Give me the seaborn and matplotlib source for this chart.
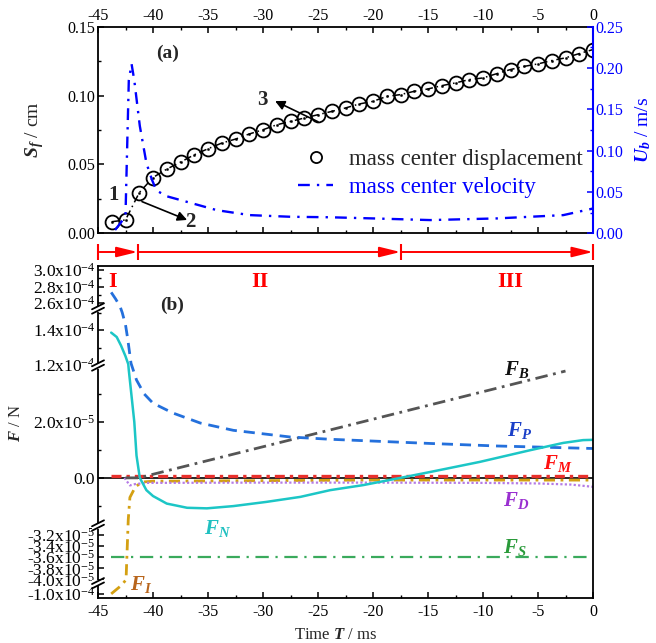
import numpy as np
import pandas as pd
import matplotlib
matplotlib.use("Agg")
import matplotlib.pyplot as plt
import seaborn as sns
from matplotlib.ticker import FixedLocator, FixedFormatter, MultipleLocator, NullFormatter
from matplotlib.lines import Line2D
from matplotlib.patches import Rectangle

# ---------------- panel (a) data ----------------
t_disp = [-43.75, -42.5, -41.25, -40.0, -38.75, -37.5, -36.25, -35.0, -33.75, -32.5, -31.25, -30.0,
          -28.75, -27.5, -26.25, -25.0, -23.75, -22.5, -21.25, -20.0, -18.75, -17.5, -16.25, -15.0,
          -13.75, -12.5, -11.25, -10.0, -8.75, -7.5, -6.25, -5.0, -3.75, -2.5, -1.25, 0.0]
s_disp = [0.0084, 0.0097, 0.0295, 0.0405, 0.0466, 0.0517, 0.0570, 0.0614, 0.0655, 0.0684, 0.0721, 0.0752,
          0.0788, 0.0812, 0.0837, 0.0861, 0.0885, 0.0910, 0.0939, 0.0958, 0.0994, 0.1007, 0.1031, 0.1048,
          0.1072, 0.1092, 0.1116, 0.1128, 0.1159, 0.1189, 0.1212, 0.1230, 0.1254, 0.1274, 0.1305, 0.1334]

t_vel = [-43.45, -42.75, -42.5, -42.2, -41.95, -41.7, -41.2, -40.6, -40.1, -39.7, -38.8, -36.9,
         -34.2, -31.2, -27.5, -23.9, -20.0, -14.8, -8.75, -2.7, 0.0]
u_vel = [0.004, 0.016, 0.022, 0.185, 0.205, 0.185, 0.130, 0.085, 0.065, 0.052, 0.045, 0.038,
         0.028, 0.022, 0.020, 0.0194, 0.018, 0.016, 0.018, 0.022, 0.030]

# ---------------- panel (b) data (N) ----------------
t_FP = [-43.8, -43.4, -43.0, -42.8, -42.5, -42.3, -42.0, -41.5, -40.8, -40.0, -38.2, -35.7,
        -32.7, -27.5, -23.9, -14.8, -8.75, 0.0]
F_P = [2.73e-4, 2.65e-4, 2.56e-4, 1.50e-4, 1.43e-4, 1.35e-4, 1.21e-4, 3.5e-5, 3.0e-5, 2.67e-5,
       2.32e-5, 1.96e-5, 1.70e-5, 1.46e-5, 1.38e-5, 1.23e-5, 1.14e-5, 1.05e-5]

t_FN = [-43.8, -43.3, -42.9, -42.5, -42.25, -42.2, -41.7, -41.5, -41.2, -40.6, -40.0, -38.75,
        -36.9, -35.1, -32.7, -29.7, -26.6, -23.9, -20.9, -17.5, -14.8, -10.3, -5.7, -2.7, -0.9, 0.0]
F_N = [1.385e-4, 1.36e-4, 1.31e-4, 1.25e-4, 1.205e-4, 3.85e-5, 2.0e-5, 0.8e-5, 0.0, -0.44e-5,
       -0.65e-5, -0.92e-5, -1.07e-5, -1.09e-5, -1.01e-5, -0.86e-5, -0.68e-5, -0.44e-5, -0.26e-5,
       0.0, 0.21e-5, 0.57e-5, 0.99e-5, 1.25e-5, 1.35e-5, 1.36e-5]

t_FB = [-42.5, -41.3, -2.5]
F_B = [0.0, 0.0, 3.82e-5]

t_FM = [-43.8, 0.0]
F_M = [0.08e-5, 0.08e-5]

t_FD = [-42.6, -42.1, -41.6, -40.5, -30.0, -20.0, -10.0, -5.0, -2.0, 0.0]
F_D = [0.0, -0.27e-5, -0.22e-5, -0.18e-5, -0.17e-5, -0.17e-5, -0.18e-5, -0.20e-5, -0.24e-5, -0.32e-5]

t_FS = [-43.8, 0.0]
F_S = [-3.6e-5, -3.6e-5]

t_FI = [-43.8, -42.85, -42.45, -42.25, -42.1, -41.6, -41.0, -40.0, -20.0, 0.0]
F_I = [-1.0e-4, -0.979e-4, -4.0e-5, -1.5e-5, -0.7e-5, -0.32e-5, -0.15e-5, -0.12e-5, -0.08e-5, -0.08e-5]

phase_edges = [-45.0, -41.4, -17.5, 0.0]
phase_names = ["I", "II", "III"]

ytick_vals = [-1.0e-4, -4.0e-5, -3.8e-5, -3.6e-5, -3.4e-5, -3.2e-5, 0.0, 2.0e-5,
              1.2e-4, 1.4e-4, 2.6e-4, 2.8e-4, 3.0e-4]
ytick_labels = ["-1.0x10$^{-4}$", "-4.0x10$^{-5}$", "-3.8x10$^{-5}$", "-3.6x10$^{-5}$",
                "-3.4x10$^{-5}$", "-3.2x10$^{-5}$", "0.0", "2.0x10$^{-5}$",
                "1.2x10$^{-4}$", "1.4x10$^{-4}$", "2.6x10$^{-4}$", "2.8x10$^{-4}$", "3.0x10$^{-4}$"]
ytick_minor = [-1.0e-5, 1.0e-5, 3.0e-5, 1.3e-4, 1.5e-4, 2.7e-4, 2.9e-4]

# broken-axis mapping (data value -> pixel row in panel b)
bp_data = [-1.01e-4, -0.975e-4, -4.06e-5, -3.06e-5, -1.65e-5, 4.0e-5, 1.2e-4, 1.52e-4, 2.54e-4, 3.05e-4]
bp_px = [598, 583.5, 583, 527, 524, 366, 365, 309, 308, 266]

# ---------------- style ----------------
sns.set_theme(style="ticks")
plt.rcParams.update({
    "font.family": ["Liberation Serif", "DejaVu Serif"],
    "mathtext.fontset": "custom",
    "mathtext.rm": "Liberation Serif",
    "mathtext.it": "Liberation Serif:italic",
    "mathtext.bf": "Liberation Serif:bold",
    "mathtext.bfit": "Liberation Serif:italic:bold",
    "axes.unicode_minus": False,
    "xtick.direction": "in",
    "ytick.direction": "in",
    "axes.linewidth": 1.3,
    "axes.edgecolor": "black",
    "xtick.color": "black",
    "ytick.color": "black",
})

W, H = 656, 643
fig = plt.figure(figsize=(W / 100, H / 100), dpi=100)
ax_a = fig.add_axes([98 / W, 1 - 233.3 / H, 495 / W, (233.3 - 26.7) / H])
ax_b = fig.add_axes([98 / W, 1 - 598 / H, 495 / W, 332 / H])

# ================= panel (a) =================
sns.lineplot(x=t_disp, y=s_disp, ax=ax_a, color="black", linestyle=(0, (5, 2.5, 1, 2.5)),
             lw=1.1, errorbar=None)
sns.lineplot(x=t_disp, y=s_disp, ax=ax_a, color="black", linestyle="none", marker="o",
             markersize=10, markerfacecolor="none", markeredgecolor="black",
             markeredgewidth=1.3, errorbar=None)
sns.lineplot(x=t_disp, y=s_disp, ax=ax_a, color="black", linestyle="none", marker="o",
             markersize=1.6, markerfacecolor="black", markeredgecolor="black",
             markeredgewidth=0.3, errorbar=None)
ax_a.set_xlim(-45, 0)
ax_a.set_ylim(0, 0.15)
ax_a.xaxis.set_major_locator(MultipleLocator(5))
ax_a.xaxis.set_minor_locator(MultipleLocator(2.5))
ax_a.yaxis.set_major_locator(MultipleLocator(0.05))
ax_a.yaxis.set_minor_locator(MultipleLocator(0.025))
ax_a.yaxis.set_major_formatter(matplotlib.ticker.FormatStrFormatter("%.2f"))
ax_a.tick_params(axis="x", which="both", top=True, bottom=True, labeltop=True,
                 labelbottom=False, labelsize=11.5, pad=2)
ax_a.tick_params(axis="y", which="both", left=True, right=False, labelsize=11.5, pad=2)
ax_a.tick_params(which="major", length=4, width=1.1)
ax_a.tick_params(which="minor", length=2.5, width=1.0)
ax_a.spines["right"].set_visible(False)
ax_a.set_ylabel(r"$\mathbfit{S}_{\mathbfit{f}}$ / cm", fontsize=14)
ax_a.yaxis.set_label_coords(-0.105, 0.5)

ax_a2 = ax_a.twinx()
sns.lineplot(x=t_vel, y=u_vel, ax=ax_a2, color="#0000ff", linestyle=(0, (5, 3, 1, 3)),
             lw=1.7, errorbar=None)
ax_a2.set_ylim(0, 0.25)
ax_a2.yaxis.set_major_locator(MultipleLocator(0.05))
ax_a2.yaxis.set_minor_locator(MultipleLocator(0.025))
ax_a2.yaxis.set_major_formatter(matplotlib.ticker.FormatStrFormatter("%.2f"))
ax_a2.tick_params(axis="y", which="both", colors="#0000ff", labelsize=11.5, pad=2)
ax_a2.tick_params(which="major", length=4, width=1.1)
ax_a2.tick_params(which="minor", length=2.5, width=1.0)
for s in ["left", "top", "bottom"]:
    ax_a2.spines[s].set_visible(False)
ax_a2.spines["right"].set_color("#0000ff")
ax_a2.spines["right"].set_linewidth(1.5)
ax_a2.set_ylabel(r"$\mathbfit{U}_{\mathbfit{b}}$ / m/s", fontsize=14, color="#0000ff")
ax_a2.yaxis.set_label_coords(1.082, 0.5)

# legend
h1 = Line2D([], [], linestyle="none", marker="o", markersize=8, markerfacecolor="none",
            markeredgecolor="black", markeredgewidth=1.3)
h2 = Line2D([], [], color="#0000ff", linestyle=(0, (5, 3, 1, 3)), lw=1.7)
leg = ax_a2.legend([h1, h2], ["mass center displacement", "mass center velocity"],
                   loc="upper left", bbox_to_anchor=(0.405, 0.41), frameon=False,
                   fontsize=16.5, handlelength=1.5, handletextpad=0.7, labelspacing=0.3,
                   borderpad=0, borderaxespad=0)
leg.get_texts()[1].set_color("#0000ff")

ax_a.text(0.141, 0.873, "(a)", transform=ax_a.transAxes, fontsize=14, fontweight="bold",
          ha="center", va="center")
ax_a.text(-43.6, 0.0279, "1", fontsize=15, fontweight="bold", ha="center", va="center")
ax_a.annotate("", xy=(-36.9, 0.0097), xytext=(-41.0, 0.0230),
              arrowprops=dict(arrowstyle="-|>", color="black", lw=1.2, mutation_scale=14,
                              shrinkA=0, shrinkB=0))
ax_a.text(-36.6, 0.0084, "2", fontsize=15, fontweight="bold", ha="center", va="center")
ax_a.annotate("", xy=(-28.9, 0.0960), xytext=(-25.0, 0.0810),
              arrowprops=dict(arrowstyle="-|>", color="black", lw=1.2, mutation_scale=14,
                              shrinkA=0, shrinkB=0))
ax_a.text(-30.1, 0.097, "3", fontsize=15, fontweight="bold", ha="center", va="center")

# ================= panel (b) =================
ax_b.axhline(0, color="black", lw=1.2, zorder=1)
sns.lineplot(x=t_FS, y=F_S, ax=ax_b, color="#3aaa5c", linestyle=(0, (6, 3, 1, 3)), lw=1.6, errorbar=None)
sns.lineplot(x=t_FI, y=F_I, ax=ax_b, color="#d4a012", linestyle=(0, (4, 2, 1, 2)), lw=2.0, errorbar=None)
sns.lineplot(x=t_FD, y=F_D, ax=ax_b, color="#b57be6", linestyle=(0, (1, 1)), lw=1.6, errorbar=None)
sns.lineplot(x=t_FM, y=F_M, ax=ax_b, color="#e8302c", linestyle=(0, (3, 1.5, 1, 1.5)), lw=2.4, errorbar=None)
sns.lineplot(x=t_FB, y=F_B, ax=ax_b, color="#555555", linestyle=(0, (4.5, 2, 1, 2)), lw=2.0, errorbar=None)
sns.lineplot(x=t_FP, y=F_P, ax=ax_b, color="#2470dc", linestyle=(0, (4, 2.5)), lw=2.0, errorbar=None)
sns.lineplot(x=t_FN, y=F_N, ax=ax_b, color="#1cc6c6", linestyle="-", lw=1.8, errorbar=None)

frac = [(598 - p) / 332 for p in bp_px]
fwd = lambda v: np.interp(v, bp_data, frac)
inv = lambda f: np.interp(f, frac, bp_data)
ax_b.set_yscale("function", functions=(fwd, inv))
ax_b.set_ylim(bp_data[0], bp_data[-1])
ax_b.set_xlim(-45, 0)
ax_b.yaxis.set_major_locator(FixedLocator(ytick_vals))
ax_b.yaxis.set_major_formatter(FixedFormatter(ytick_labels))
ax_b.yaxis.set_minor_locator(FixedLocator(ytick_minor))
ax_b.yaxis.set_minor_formatter(NullFormatter())
ax_b.xaxis.set_major_locator(MultipleLocator(5))
ax_b.xaxis.set_minor_locator(MultipleLocator(2.5))
ax_b.tick_params(axis="x", which="both", top=False, bottom=True, labelsize=11.5, pad=4)
ax_b.tick_params(axis="y", which="both", left=True, right=False, labelsize=12.5, pad=2)
ax_b.tick_params(which="major", length=4, width=1.1)
ax_b.tick_params(which="minor", length=2.5, width=1.0)
ax_b.set_ylabel(r"$\mathbfit{F}$ / N", fontsize=12)
ax_b.yaxis.set_label_coords(-0.150, 0.527)
ax_b.set_xlabel(r"Time $\mathbfit{T}$ / ms", fontsize=12)
ax_b.xaxis.set_label_coords(0.479, -0.088)

# break marks on the left spine
gap_px = [583.25, 525.5, 365.5, 308.5]
for gp in gap_px:
    fc = (598 - gp) / 332
    ax_b.add_patch(Rectangle((-0.012, fc - 3.0 / 332), 0.024, 6.0 / 332, transform=ax_b.transAxes,
                             facecolor="white", edgecolor="none", clip_on=False, zorder=6))
    for off in (-2.2, 2.2):
        ax_b.plot([-6 / 495, 6 / 495], [fc + (off - 3) / 332, fc + (off + 3) / 332],
                  transform=ax_b.transAxes, color="black", lw=1.3, clip_on=False, zorder=7)

# phase arrows above panel b
tr = ax_b.get_xaxis_transform()
ya = (598 - 252) / 332
for x0, x1 in zip(phase_edges[:-1], phase_edges[1:]):
    ax_b.annotate("", xy=(x1, ya), xytext=(x0 + 0.15, ya), xycoords=tr, textcoords=tr,
                  arrowprops=dict(arrowstyle="-|>,head_length=0.9,head_width=0.22", color="#ff0000",
                                  lw=1.4, shrinkA=0, shrinkB=0, mutation_scale=14),
                  annotation_clip=False)
ax_b.plot(phase_edges, [ya] * len(phase_edges), transform=tr, linestyle="none", marker="|",
          markersize=11, markeredgewidth=1.5, color="#ff0000", clip_on=False)
for name, xp in zip(phase_names, [-43.7, -30.3, -7.5]):
    ax_b.text(xp, 0.952, name, transform=tr, color="#ff0000", fontsize=16, fontweight="bold",
              ha="center", va="center")

ax_b.text(0.149, 0.8825, "(b)", transform=ax_b.transAxes, fontsize=14, fontweight="bold",
          ha="center", va="center")

# force labels
lab = [(r"$\mathbfit{F}_{\mathbfit{B}}$", -6.9, 0.687, "#111111"),
       (r"$\mathbfit{F}_{\mathbfit{P}}$", -6.7, 0.504, "#1a3fc8"),
       (r"$\mathbfit{F}_{\mathbfit{M}}$", -3.2, 0.406, "#ff1010"),
       (r"$\mathbfit{F}_{\mathbfit{D}}$", -7.0, 0.295, "#9a2fd0"),
       (r"$\mathbfit{F}_{\mathbfit{S}}$", -7.1, 0.153, "#2a9a3a"),
       (r"$\mathbfit{F}_{\mathbfit{N}}$", -34.1, 0.210, "#20c0c0"),
       (r"$\mathbfit{F}_{\mathbfit{I}}$", -41.1, 0.042, "#b8651c")]
for txt, xp, yp, c in lab:
    ax_b.text(xp, yp, txt, transform=tr, color=c, fontsize=15, ha="center", va="center")

fig.savefig("out.png", dpi=100)
